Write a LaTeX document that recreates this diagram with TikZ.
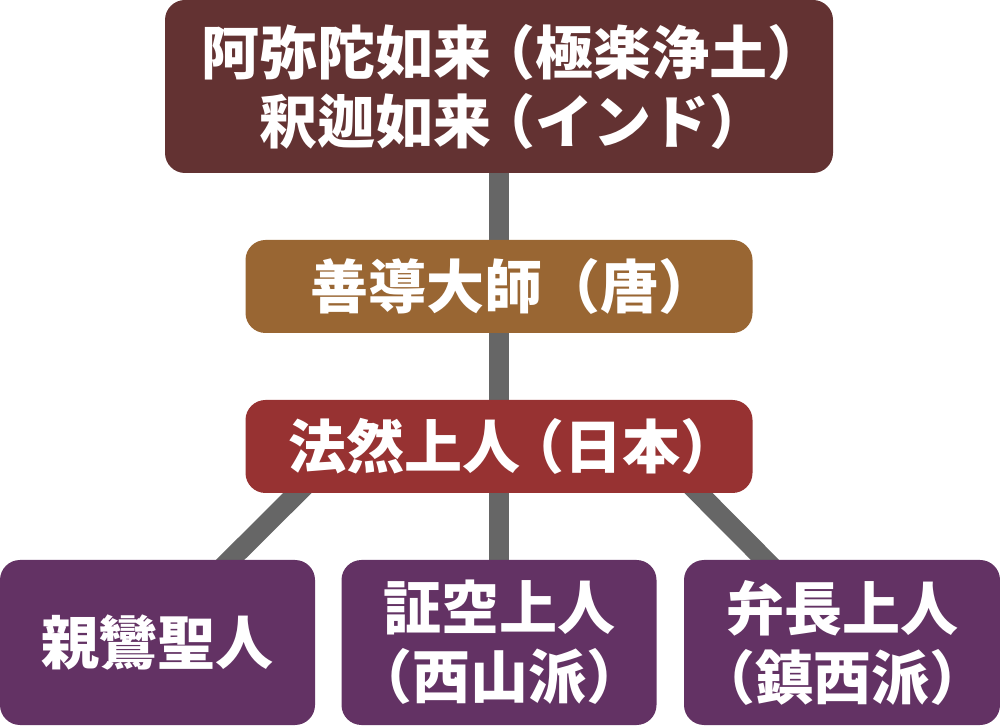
\documentclass[tikz,border=0pt]{standalone}
\usepackage{fontspec}
\newfontfamily\jpfont[RawFeature=+halt]{Noto Sans CJK JP}
\usetikzlibrary{backgrounds, calc}

\definecolor{amidabrown}{HTML}{633232}
\definecolor{zendobrown}{HTML}{996633}
\definecolor{honenred}{HTML}{973232}
\definecolor{discpurple}{HTML}{633264}
\definecolor{linkgray}{HTML}{666666}

% opening bracket after a name, with a little air before it
\newcommand\openbr[1][0.25em]{\hspace{#1}（}

\begin{document}
\begin{tikzpicture}[x=1pt, y=1pt,
    box/.style={rounded corners=20pt, text=white, align=center, inner sep=0pt,
      font=\jpfont\bfseries\fontsize{58}{69}\selectfont},
    wide/.style={box, minimum width=507pt, minimum height=93pt},
    disciple/.style={box, fill=discpurple, minimum width=315pt, minimum height=165pt},
    link/.style={linkgray, line width=20pt}]
  \useasboundingbox (0,0) rectangle (1000,725);

  % Top: Amida / Shakyamuni
  \node[box, fill=amidabrown, minimum width=668pt, minimum height=173pt]
       (amida) at (499,638.5) {阿弥陀如来\openbr 極楽浄土）\\釈迦如来\openbr インド）};

  % Shandao and Honen
  \node[wide, fill=zendobrown] (zendo) at (499,438.5) {善導大師\openbr[0.5em]唐）};
  \node[wide, fill=honenred]   (honen) at (499,278.5) {法然上人\openbr 日本）};

  % Disciples
  \node[disciple] (shinran) at (157.5,82.5) {親鸞聖人};
  \node[disciple] (shoku)   at (499,82.5)   {証空上人\\（西山派）};
  \node[disciple, minimum width=316pt] (bencho) at (842,82.5) {弁長上人\\（鎮西派）};

  % Lineage lines (behind the boxes)
  \begin{scope}[on background layer]
    \draw[link] (amida.center) -- (zendo.center);
    \draw[link] (zendo.center) -- (honen.center);
    \draw[link] (honen.center) -- (shoku.center);
    \draw[link] ($(honen.south west)+(65,13)$) -- ($(shinran.north east)+(-95,-10)$);
    \draw[link] ($(honen.south east)+(-67,13)$) -- ($(bencho.north west)+(91,-10)$);
  \end{scope}
\end{tikzpicture}
\end{document}
